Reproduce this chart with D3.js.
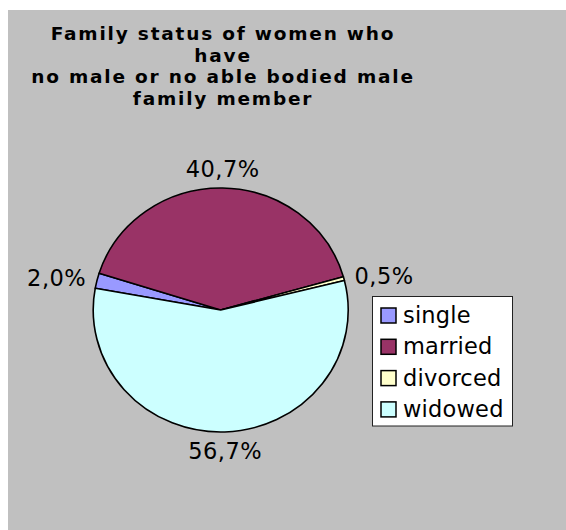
<!DOCTYPE html>
<html>
<head>
<meta charset="utf-8">
<script src="https://cdn.jsdelivr.net/npm/d3@7"></script>
<style>
  html, body { margin: 0; padding: 0; background: #ffffff; }
  svg { display: block; }
  text { font-family: "DejaVu Sans", Verdana, sans-serif; fill: #000; }
</style>
</head>
<body>
<svg id="chart" width="566" height="530"></svg>
<script>
// ---- data ----
const titleLines = ["Family status of women who", "have", "no male or no able bodied male", "family member"];
const categories = ["single", "married", "divorced", "widowed"];
const values = [2.0, 40.7, 0.5, 56.7];
const labels = ["2,0%", "40,7%", "0,5%", "56,7%"];
const colors = ["#9999FF", "#993366", "#FFFFCC", "#CCFFFF"];

// ---- layout ----
const W = 566, H = 530;
const svg = d3.select("#chart");

svg.append("rect").attr("x", 8).attr("y", 10).attr("width", W - 8).attr("height", H - 10)
  .attr("fill", "#C0C0C0");

// title
const title = svg.append("text")
  .attr("text-anchor", "middle")
  .attr("font-size", 18.5).attr("font-weight", "bold")
  .attr("letter-spacing", 1.8);
titleLines.forEach((t, i) => {
  title.append("tspan").attr("x", 223).attr("y", 40 + i * 21.6).text(t);
});

// pie
const cx = 220.7, cy = 310, rx = 127.5, ry = 122;
const startDeg = -79.7;
const pie = d3.pie().sort(null).value(d => d)
  .startAngle(startDeg * Math.PI / 180)
  .endAngle(startDeg * Math.PI / 180 + 2 * Math.PI);
const arcs = pie(values);
const arc = d3.arc().innerRadius(0).outerRadius(rx);

const g = svg.append("g").attr("transform", `translate(${cx},${cy}) scale(1,${ry / rx})`);
g.selectAll("path").data(arcs).join("path")
  .attr("d", arc)
  .attr("fill", (d, i) => colors[i])
  .attr("stroke", "#000")
  .attr("stroke-width", 1.6)
  .attr("stroke-linejoin", "round")
  .attr("vector-effect", "non-scaling-stroke");

// data labels
const gap = 11;
arcs.forEach((d, i) => {
  const a = (d.startAngle + d.endAngle) / 2;
  const s = Math.sin(a), c = Math.cos(a);
  const px = cx + (rx + gap) * s;
  const py = cy - (ry + gap) * c;
  const t = svg.append("text")
    .attr("font-size", 22.5)
    .attr("letter-spacing", 0.5)
    .text(labels[i]);
  let anchor = "middle", dy = "0.36em";
  if (Math.abs(s) > 0.5) {
    anchor = s > 0 ? "start" : "end";
  } else if (c > 0) {
    dy = "0em";
  } else {
    dy = "0.73em";
  }
  t.attr("text-anchor", anchor).attr("x", px).attr("y", py).attr("dy", dy);
});

// legend
const lg = svg.append("g");
lg.append("rect").attr("x", 372.5).attr("y", 296.5).attr("width", 140).attr("height", 129.5)
  .attr("fill", "#FFFFFF").attr("stroke", "#222").attr("stroke-width", 1);
categories.forEach((c, i) => {
  const y0 = 308 + i * 31.3;
  lg.append("rect").attr("x", 381).attr("y", y0).attr("width", 15).attr("height", 15)
    .attr("fill", colors[i]).attr("stroke", "#000").attr("stroke-width", 1.5);
  lg.append("text").attr("x", 403).attr("y", y0 + 15)
    .attr("font-size", 22.5).attr("letter-spacing", 0.2).text(c);
});
</script>
</body>
</html>
